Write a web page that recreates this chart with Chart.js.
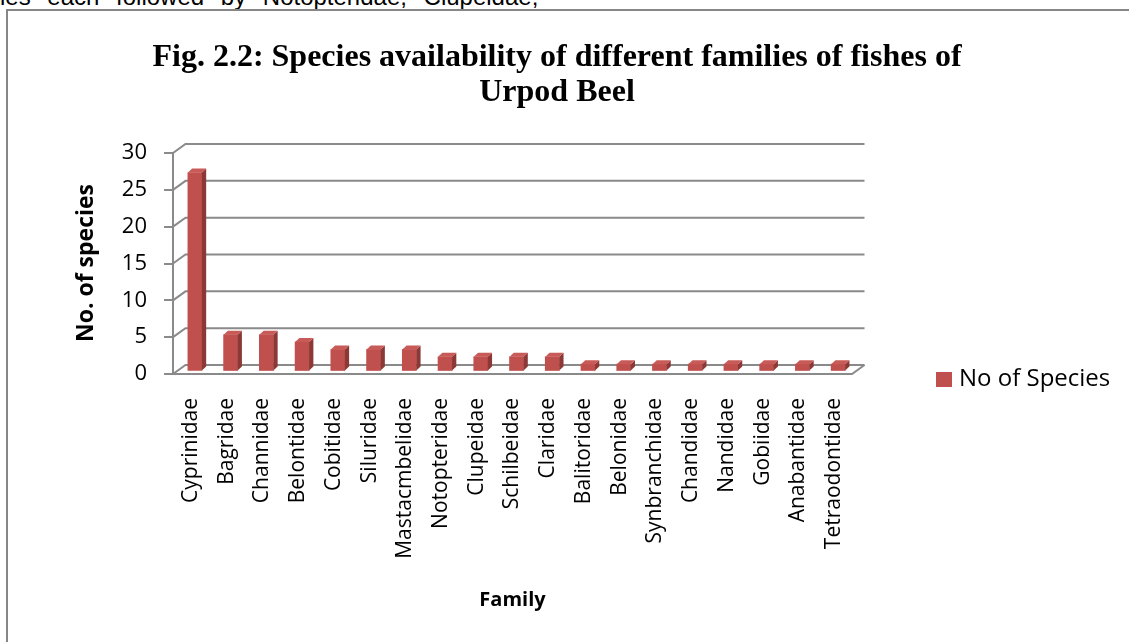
<!DOCTYPE html>
<html>
<head>
<meta charset="utf-8">
<script src="https://cdn.jsdelivr.net/npm/chart.js@4/dist/chart.umd.min.js"></script>
<style>
  html, body { margin: 0; padding: 0; background: #fff; overflow: hidden; width: 1129px; height: 642px; }
  #prose { position: absolute; left: 0; top: -15px; font: 24px "Liberation Sans", Arial, sans-serif; line-height: 24px; word-spacing: 10px; white-space: nowrap; color: #000; }
  #frame { position: absolute; left: 6px; top: 9px; width: 1300px; height: 800px; border: 2px solid #878787; box-sizing: border-box; }
  #wrap { position: absolute; left: 0; top: 0; width: 1129px; height: 642px; }
</style>
</head>
<body>
<div id="prose">ies each followed by Notopteridae, Clupeidae,</div>
<div id="frame"></div>
<div id="wrap"><canvas id="c" width="1129" height="642"></canvas></div>
<script>
// Fish families and the number of species recorded in each
const families = ['Cyprinidae', 'Bagridae', 'Channidae', 'Belontidae', 'Cobitidae', 'Siluridae',
  'Mastacmbelidae', 'Notopteridae', 'Clupeidae', 'Schilbeidae', 'Claridae', 'Balitoridae',
  'Belonidae', 'Synbranchidae', 'Chandidae', 'Nandidae', 'Gobiidae', 'Anabantidae', 'Tetraodontidae'];
const speciesCounts = [27, 5, 5, 4, 3, 3, 3, 2, 2, 2, 2, 1, 1, 1, 1, 1, 1, 1, 1];
const seriesName = 'No of Species';
const yTicks = [0, 5, 10, 15, 20, 25, 30];
const titleLines = ['Fig. 2.2: Species availability of different families of fishes of', 'Urpod Beel'];
const yAxisTitle = 'No. of species';
const xAxisTitle = 'Family';

// Pseudo-3D geometry
const WALL_DX = 12.5, WALL_DY = 9;     // depth of back wall relative to front plane
const BAR_DX = 4, BAR_DY = -2.5;       // bars sit slightly behind the front plane
const SIDE_DX = 4.3, SIDE_DY = 4;      // visible side / top thickness of each column
const FRONT = '#C0504D', SIDE = '#8C3836', TOP = '#C85A57';
const GRID = '#8a8a8a';
const SANS = '"Open Sans", "DejaVu Sans", sans-serif';

const depthPlugin = {
  id: 'depth3d',
  beforeDatasetsDraw(chart) {
    const { ctx, chartArea: a, scales: { y } } = chart;
    ctx.save();
    ctx.strokeStyle = GRID;
    ctx.lineWidth = 2;
    ctx.lineJoin = 'miter';
    // side-wall diagonals and back-wall gridlines
    y.ticks.forEach(t => {
      const py = y.getPixelForValue(t.value);
      ctx.beginPath();
      ctx.moveTo(a.left, py);
      ctx.lineTo(a.left + WALL_DX, py - WALL_DY);
      ctx.lineTo(a.right + WALL_DX, py - WALL_DY);
      ctx.stroke();
    });
    // floor: front edge and right edge
    ctx.beginPath();
    ctx.moveTo(a.left, a.bottom);
    ctx.lineTo(a.right, a.bottom);
    ctx.lineTo(a.right + WALL_DX, a.bottom - WALL_DY);
    ctx.stroke();
    ctx.restore();
    // shift the columns into the depth of the plot
    ctx.save();
    ctx.translate(BAR_DX, BAR_DY);
  },
  afterDatasetsDraw(chart) {
    const ctx = chart.ctx;
    chart.getDatasetMeta(0).data.forEach(bar => {
      const { x, y, base, width } = bar.getProps(['x', 'y', 'base', 'width'], true);
      const l = x - width / 2, r = x + width / 2;
      ctx.fillStyle = SIDE;
      ctx.beginPath();
      ctx.moveTo(r, y); ctx.lineTo(r + SIDE_DX, y - SIDE_DY);
      ctx.lineTo(r + SIDE_DX, base - SIDE_DY); ctx.lineTo(r, base);
      ctx.closePath(); ctx.fill();
      ctx.fillStyle = TOP;
      ctx.beginPath();
      ctx.moveTo(l, y); ctx.lineTo(l + SIDE_DX, y - SIDE_DY);
      ctx.lineTo(r + SIDE_DX, y - SIDE_DY); ctx.lineTo(r, y);
      ctx.closePath(); ctx.fill();
    });
    ctx.restore();
  }
};

const textPlugin = {
  id: 'chartText',
  afterDraw(chart) {
    const { ctx, chartArea: a } = chart;
    ctx.save();
    ctx.fillStyle = '#000';
    // title
    ctx.font = 'bold 32px "Liberation Serif", "Times New Roman", serif';
    ctx.textAlign = 'center';
    ctx.textBaseline = 'alphabetic';
    ctx.fillText(titleLines[0], 557, 66);
    ctx.fillText(titleLines[1], 557, 101);
    // axis titles
    ctx.font = 'bold 20px ' + SANS;
    ctx.fillText(xAxisTitle, (a.left + a.right) / 2, 606);
    ctx.save();
    ctx.translate(93, 263);
    ctx.rotate(-Math.PI / 2);
    ctx.font = 'bold 23px ' + SANS;
    ctx.fillText(yAxisTitle, 0, 0);
    ctx.restore();
    // legend
    ctx.fillStyle = FRONT;
    ctx.fillRect(936, 372, 16, 15);
    ctx.fillStyle = '#000';
    ctx.textAlign = 'left';
    ctx.font = '24px ' + SANS;
    ctx.fillText(chart.data.datasets[0].label, 959, 386);
    ctx.restore();
  }
};

new Chart(document.getElementById('c'), {
  type: 'bar',
  data: {
    labels: families,
    datasets: [{
      label: seriesName,
      data: speciesCounts,
      backgroundColor: FRONT,
      borderWidth: 0,
      barThickness: 14,
      clip: false
    }]
  },
  options: {
    responsive: false,
    animation: false,
    devicePixelRatio: 1,
    layout: { padding: { top: 153, right: 277, bottom: 0, left: 0 } },
    plugins: { legend: { display: false }, title: { display: false }, tooltip: { enabled: false } },
    scales: {
      x: {
        grid: { display: false, drawTicks: false },
        border: { display: false },
        ticks: { autoSkip: false, minRotation: 90, maxRotation: 90, padding: 24, color: '#000', font: { family: SANS, size: 21 } },
        afterFit(s) { s.height = 642 - 374; }
      },
      y: {
        min: yTicks[0],
        max: yTicks[yTicks.length - 1],
        grid: { drawOnChartArea: false, drawTicks: true, tickLength: 9, color: GRID, lineWidth: 2 },
        border: { display: true, color: GRID, width: 2 },
        ticks: { stepSize: yTicks[1] - yTicks[0], padding: 17, color: '#000', font: { family: SANS, size: 22 } },
        afterFit(s) { s.width = 173; }
      }
    }
  },
  plugins: [depthPlugin, textPlugin]
});
</script>
</body>
</html>
